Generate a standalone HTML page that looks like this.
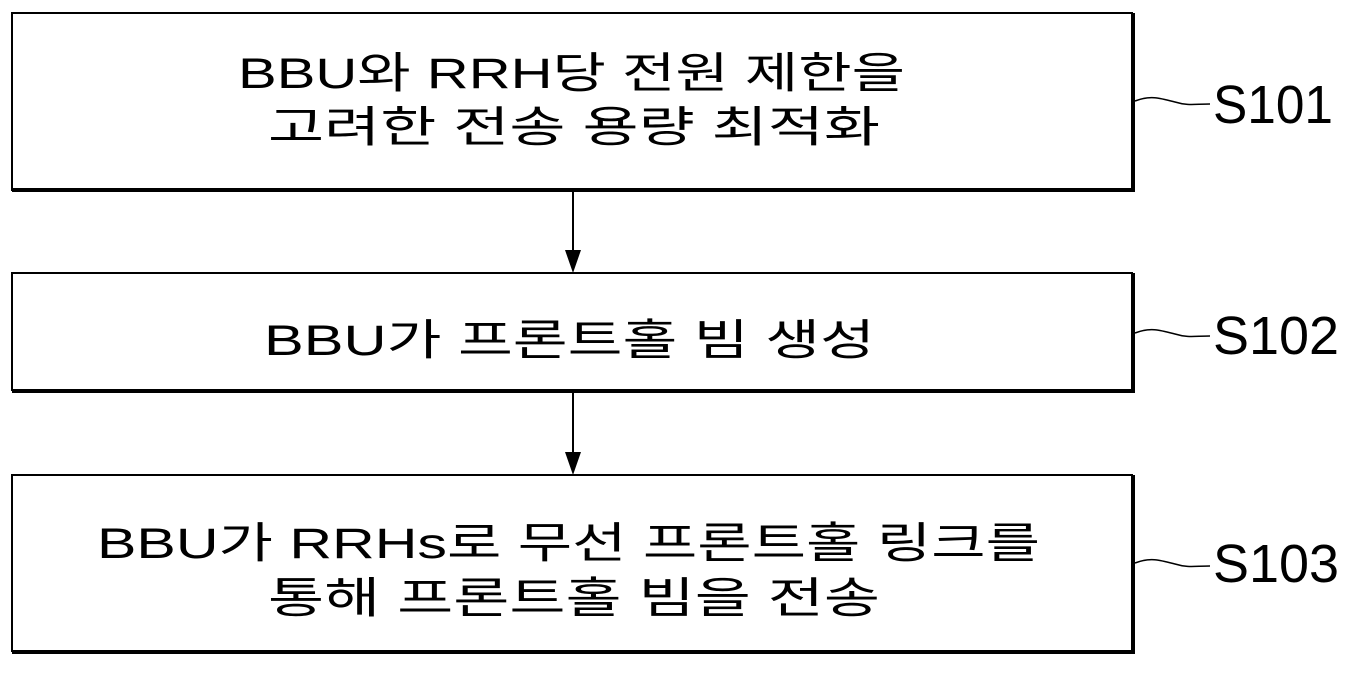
<!DOCTYPE html>
<html><head><meta charset="utf-8"><style>
html,body{margin:0;padding:0;background:#fff;}
svg{display:block;}
text{font-family:"Liberation Sans","Noto Sans CJK KR","NanumGothic",sans-serif;fill:#000;}
</style></head><body>
<svg width="1364" height="673" viewBox="0 0 1364 673" xmlns="http://www.w3.org/2000/svg">
<g fill="none" stroke="#000">
<path d="M12 191 V13 H1133" stroke-width="2"/>
<path d="M12 190 H1133 V13" stroke-width="4"/>
<path d="M12 391 V273 H1133" stroke-width="2"/>
<path d="M12 391 H1133 V273" stroke-width="4"/>
<path d="M12 652 V475 H1133" stroke-width="2"/>
<path d="M12 652 H1133 V475" stroke-width="4"/>
<path d="M573 192 V255" stroke-width="2"/>
<path d="M573 393 V457" stroke-width="2"/>
<path d="M1135 101 C1150 95,1160 98,1175 102 C1188 106,1195 104,1210 104" stroke-width="1.5"/>
<path d="M1135 333 C1150 327,1160 330,1175 334 C1188 338,1195 336,1210 336" stroke-width="1.5"/>
<path d="M1135 563 C1150 557,1160 560,1175 564 C1188 568,1195 566,1210 566" stroke-width="1.5"/>
</g>
<polygon points="565,250 581,250 573,273" fill="#000"/>
<polygon points="565,452 581,452 573,475" fill="#000"/>
<g font-size="43">
<text x="238" y="88" textLength="667" lengthAdjust="spacingAndGlyphs">BBU와 RRH당 전원 제한을</text>
<text x="268" y="142" textLength="612" lengthAdjust="spacingAndGlyphs">고려한 전송 용량 최적화</text>
<text x="264" y="355" textLength="611" lengthAdjust="spacingAndGlyphs">BBU가 프론트홀 빔 생성</text>
<text x="97" y="558" textLength="943" lengthAdjust="spacingAndGlyphs">BBU가 RRHs로 무선 프론트홀 링크를</text>
<text x="268" y="613" textLength="612" lengthAdjust="spacingAndGlyphs">통해 프론트홀 빔을 전송</text>
</g>
<g font-size="54">
<text x="1213" y="123" textLength="120" lengthAdjust="spacingAndGlyphs">S101</text>
<text x="1213" y="354" textLength="126" lengthAdjust="spacingAndGlyphs">S102</text>
<text x="1213" y="582" textLength="126" lengthAdjust="spacingAndGlyphs">S103</text>
</g>
</svg>
</body></html>
